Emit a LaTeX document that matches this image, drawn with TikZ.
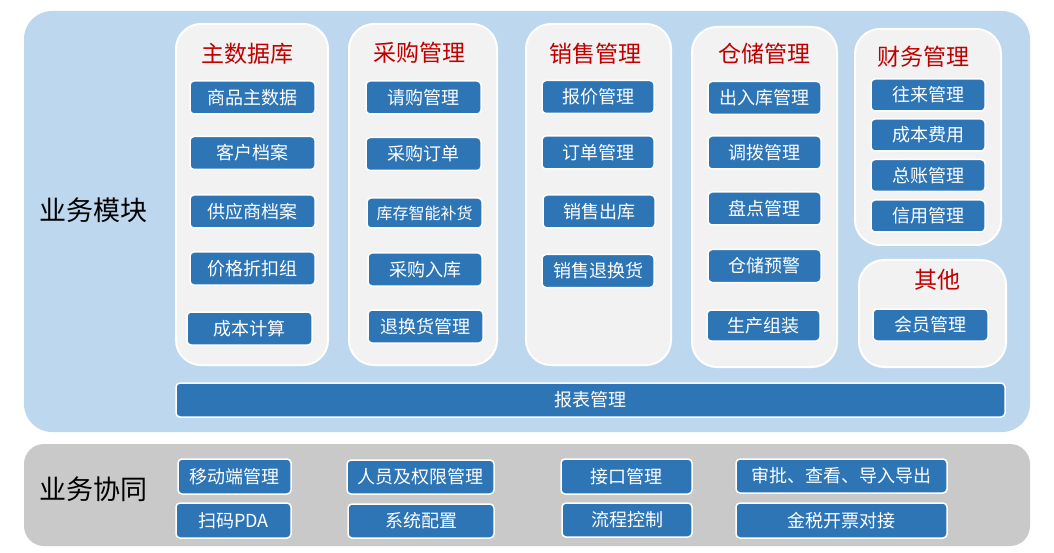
\documentclass[tikz,border=0pt]{standalone}
\usepackage{fontspec}
\setmainfont{Noto Sans CJK SC}
\definecolor{panelblue}{HTML}{BDD7EE}
\definecolor{panelgray}{HTML}{C9C9C9}
\definecolor{colgray}{HTML}{F2F2F2}
\definecolor{itemblue}{HTML}{2E75B6}
\definecolor{titlered}{HTML}{C00000}
\begin{document}
\begin{tikzpicture}[x=1pt,y=-1pt]
  \tikzstyle{every node}=[inner sep=0pt,font=\fontsize{18}{20}\selectfont];
  \tikzstyle{panel}=[rounded corners=28pt,minimum width=1006pt];
  \tikzstyle{col}=[fill=colgray,draw=white,line width=2pt,rounded corners=25pt];
  \tikzstyle{title}=[text=titlered,font=\fontsize{23}{25}\selectfont];
  \tikzstyle{big}=[font=\fontsize{27}{30}\selectfont];
  \tikzstyle{item}=[fill=itemblue,draw=white,line width=1.5pt,rounded corners=4pt,text=white,minimum height=33pt];

  \useasboundingbox (0,0) rectangle (1054,553);

  % panels
  \node[panel,fill=panelblue,minimum height=421pt] (mod) at (527,221.5) {};
  \node[panel,fill=panelgray,minimum height=102pt,rounded corners=20pt] (co) at (527,495) {};
  \node[big] (modt) at (93,210) {业务模块};
  \node[big] (cot) at (93,489) {业务协同};

  % columns
  \node[col,minimum width=152pt,minimum height=341pt] (c1) at (252,194.5) {};
  \node[col,minimum width=148pt,minimum height=341pt] (c2) at (423,194.5) {};
  \node[col,minimum width=145pt,minimum height=341pt] (c3) at (598.5,194.5) {};
  \node[col,minimum width=145pt,minimum height=340pt] (c4) at (764.5,197) {};
  \node[col,minimum width=146pt,minimum height=216pt] (c5) at (928,137) {};
  \node[col,minimum width=147pt,minimum height=107pt] (c6) at (932.5,313.5) {};

  \node[title] (t1) at (247,54) {主数据库};
  \node[title] (t2) at (419,53) {采购管理};
  \node[title] (t3) at (595,54) {销售管理};
  \node[title] (t4) at (764,54) {仓储管理};
  \node[title] (t5) at (923,57) {财务管理};
  \node[title] (t6) at (937,280) {其他};

  % master data
  \node[item,minimum width=125pt] (a1) at (252.5,97.5) {商品主数据};
  \node[item,minimum width=125pt] (a2) at (252.5,153) {客户档案};
  \node[item,minimum width=125pt] (a3) at (252.5,211.5) {供应商档案};
  \node[item,minimum width=125pt] (a4) at (252.5,268.5) {价格折扣组};
  \node[item,minimum width=125pt] (a5) at (249.5,328.5) {成本计算};

  % purchase
  \node[item,minimum width=115pt] (b1) at (423.5,97.5) {请购管理};
  \node[item,minimum width=115pt] (b2) at (423.5,154) {采购订单};
  \node[item,minimum width=115pt,minimum height=30pt,font=\fontsize{16}{18}\selectfont] (b3) at (424.5,213) {库存智能补货};
  \node[item,minimum width=114pt] (b4) at (425,269.5) {采购入库};
  \node[item,minimum width=115pt] (b5) at (425.5,326.5) {退换货管理};

  % sales
  \node[item,minimum width=112pt] (s1) at (598,97) {报价管理};
  \node[item,minimum width=112pt] (s2) at (598,152.5) {订单管理};
  \node[item,minimum width=112pt] (s3) at (599,211.5) {销售出库};
  \node[item,minimum width=112pt] (s4) at (598,271) {销售退换货};

  % storage
  \node[item,minimum width=113pt] (w1) at (764.5,98) {出入库管理};
  \node[item,minimum width=113pt] (w2) at (764.5,152.5) {调拨管理};
  \node[item,minimum width=113pt] (w3) at (764.5,208.5) {盘点管理};
  \node[item,minimum width=113pt] (w4) at (764.5,266) {仓储预警};
  \node[item,minimum width=113pt,minimum height=31pt] (w5) at (763.5,325.5) {生产组装};

  % finance
  \node[item,minimum width=114pt,minimum height=32pt] (f1) at (928,95) {往来管理};
  \node[item,minimum width=114pt,minimum height=32pt] (f2) at (928,135) {成本费用};
  \node[item,minimum width=114pt,minimum height=32pt] (f3) at (928,175.5) {总账管理};
  \node[item,minimum width=114pt,minimum height=32pt] (f4) at (928,216) {信用管理};

  % other
  \node[item,minimum width=115pt,minimum height=32pt] (o1) at (930.5,325) {会员管理};

  \node[item,minimum width=829pt,minimum height=34pt] (rep) at (590.5,400) {报表管理};

  % cooperation
  \node[item,minimum width=113pt,minimum height=35pt] (p1) at (234.5,476.5) {移动端管理};
  \node[item,minimum width=115pt,minimum height=35pt] (p2) at (233.5,520.5) {扫码PDA};
  \node[item,minimum width=147pt,minimum height=34pt] (p3) at (420.5,477) {人员及权限管理};
  \node[item,minimum width=146pt,minimum height=34pt] (p4) at (421,521) {系统配置};
  \node[item,minimum width=131pt,minimum height=35pt] (p5) at (626.5,476.5) {接口管理};
  \node[item,minimum width=130pt,minimum height=34pt] (p6) at (627,520) {流程控制};
  \node[item,minimum width=211pt,minimum height=34pt] (p7) at (841.5,476) {审批、查看、导入导出};
  \node[item,minimum width=211pt,minimum height=35pt] (p8) at (841.5,520.5) {金税开票对接};
\end{tikzpicture}
\end{document}
